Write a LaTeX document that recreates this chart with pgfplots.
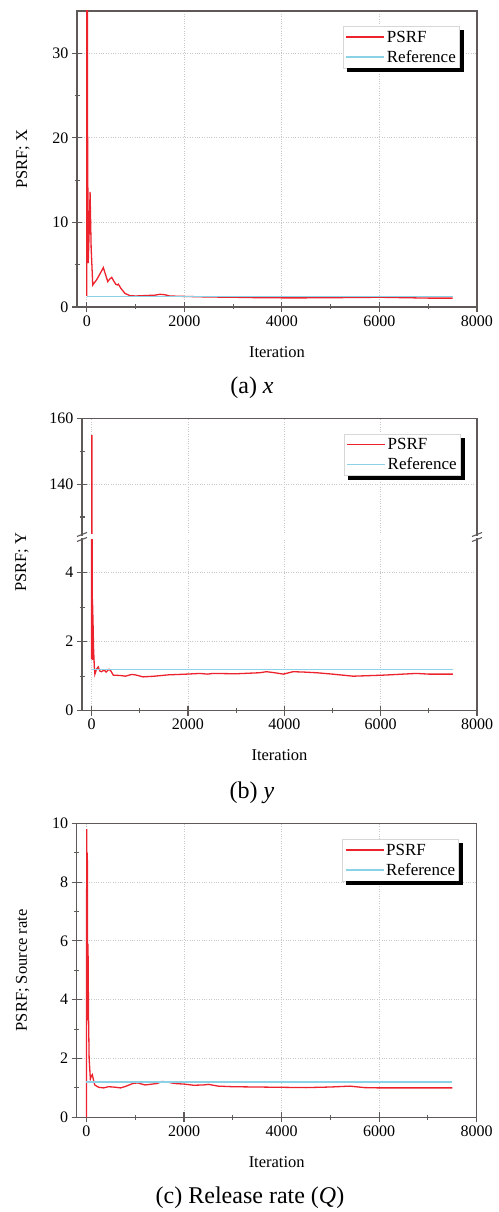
\documentclass[border=0pt]{standalone}
\usepackage{fontspec}
\setmainfont{Liberation Serif}
\usepackage{pgfplots}
\pgfplotsset{compat=1.18}
\usepackage{pgfplotstable}

\definecolor{psrfred}{RGB}{236,35,45}
\definecolor{refcyan}{RGB}{140,210,230}
\definecolor{axcol}{RGB}{95,90,88}
\definecolor{gridcol}{RGB}{200,200,200}
\definecolor{legbord}{RGB}{215,215,215}

\pgfplotstableread{
x y
0 1.3
6 80
14 24
30 5.2
50 9
68 13.6
90 7
123 2.6
200 3.2
270 3.9
340 4.66
430 3.0
470 3.3
512 3.5
560 3.0
594 2.7
630 2.6
648 2.7
700 2.2
785 1.6
887 1.34
1000 1.3
1200 1.35
1400 1.4
1500 1.5
1600 1.45
1700 1.3
2000 1.25
2500 1.18
3000 1.15
3500 1.1
4000 1.08
4500 1.08
5000 1.1
5500 1.12
6000 1.15
6500 1.1
7000 1.05
7500 1.05
}\dataX

\pgfplotstableread{
x y
0 1.5
5 155
10 60
15 1.47
20 3.06
30 2.5
40 1.8
55 1.3
68 1.06
100 1.2
137 1.27
170 1.15
206 1.13
260 1.18
300 1.12
360 1.2
400 1.15
450 1.03
600 1.02
700 1.0
830 1.05
900 1.04
1070 0.98
1300 1.0
1600 1.04
1800 1.05
1970 1.06
2250 1.08
2400 1.06
2520 1.08
3000 1.07
3490 1.1
3630 1.13
3800 1.1
3980 1.06
4180 1.13
4400 1.12
4670 1.1
5000 1.06
5430 1.0
6050 1.03
6740 1.08
7000 1.06
7500 1.06
}\dataY

\pgfplotstableread{
x y
0 0
5 9.8
12 3.3
18 9.0
25 3.3
32 5.9
42 3.5
55 2.0
80 1.3
100 1.4
120 1.45
140 1.3
170 1.1
250 1.02
350 1.0
450 1.04
550 1.03
700 1.0
800 1.05
950 1.15
1050 1.17
1200 1.1
1300 1.12
1450 1.15
1550 1.22
1650 1.2
1800 1.15
2000 1.13
2200 1.09
2400 1.1
2500 1.12
2700 1.06
3000 1.04
3500 1.03
4000 1.02
4500 1.01
5000 1.03
5400 1.06
5700 1.01
6000 1.0
7500 1.0
}\dataQ

\pgfplotsset{
  psrfstyle/.style={
    scale only axis,
    xmin=-200, xmax=8000,
    xtick={0,2000,4000,6000,8000},
    minor x tick num=1,
    minor y tick num=1,
    tick pos=left,
    tick align=center,
    major tick length=10pt,
    minor tick length=5pt,
    axis line style={axcol, line width=1.3pt},
    every tick/.append style={axcol, line width=1.1pt},
    grid=major,
    grid style={gridcol, dotted, line width=0.9pt},
    tick label style={font=\fontsize{16}{16}\selectfont},
    /pgf/number format/assume math mode=true,
    /pgf/number format/1000 sep={},
    label style={font=\fontsize{16.5}{17}\selectfont},
    xlabel style={at={(rel axis cs:0.5,0)}, anchor=center, yshift=-44.7pt},
    legend cell align=left,
    legend style={font=\fontsize{17}{20}\selectfont, draw=legbord, line width=0.8pt, fill=white,
      inner xsep=2pt, inner ysep=2.5pt, nodes={inner sep=1.8pt}, row sep=3pt, anchor=north east},
    legend image code/.code={\draw[#1, line width=1.6pt] (0pt,0pt) -- (38pt,0pt);},
  },
  redline/.style={psrfred, line width=1.3pt},
  cyanline/.style={refcyan, line width=1.2pt},
}
\newcommand{\legshadow}[1]{%
  \fill[black] ([yshift=-4pt]#1.north east) rectangle ([xshift=4pt,yshift=-4pt]#1.south east);
  \fill[black] ([xshift=4pt]#1.south west) rectangle ([xshift=4pt,yshift=-4pt]#1.south east);
}

\begin{document}
\begin{tikzpicture}
\useasboundingbox (0pt,0pt) rectangle (498pt,1212pt);

% ---------------- (a) ----------------
\begin{axis}[psrfstyle,
  at={(77pt,905pt)}, anchor=south west,
  width=400pt, height=296pt,
  ymin=0, ymax=35, ytick={0,10,20,30},
  xlabel={Iteration},
  ylabel={PSRF; X},
  ylabel style={at={([xshift=-54pt]rel axis cs:0,0.5)}, anchor=center, rotate=0},
  legend style={at={(rel axis cs:0.9575,0.949)}, name=legA},
]
\addplot[redline] table[x=x,y=y] {\dataX};
\addlegendentry{PSRF}
\addplot[cyanline] coordinates {(0,1.2) (7500,1.2)};
\addlegendentry{Reference}
\end{axis}
\legshadow{legA}
\node[font=\fontsize{24}{26}\selectfont] at (252pt,824pt) {(a) \textit{x}};

% ---------------- (b) lower ----------------
\begin{axis}[psrfstyle,
  at={(82pt,501.3pt)}, anchor=south west,
  width=395pt, height=172.5pt,
  ymin=0, ymax=5, ytick={0,2,4},
  xlabel={Iteration},
  ylabel={PSRF; Y},
  ylabel style={at={([xshift=-60pt]rel axis cs:0,0.862)}, anchor=center, rotate=0},
]
\addplot[redline] table[x=x,y=y] {\dataY};
\addplot[cyanline] coordinates {(0,1.2) (7500,1.2)};
\end{axis}

% ---------------- (b) upper ----------------
\begin{axis}[psrfstyle,
  at={(82pt,677pt)}, anchor=south west,
  width=395pt, height=116.3pt,
  ymin=124.5, ymax=160, ytick={140,160},
  minor ytick={130,150},
  xticklabels={},
  xtick style={draw=none},
  legend style={at={(rel axis cs:0.959,0.872)}, name=legB},
]
\addplot[redline] table[x=x,y=y] {\dataY};
\addlegendentry{PSRF}
\addplot[cyanline] coordinates {(0,1.2) (7500,1.2)};
\addlegendentry{Reference}
\end{axis}
\legshadow{legB}
\fill[white] (82.8pt,672.9pt) rectangle (476.2pt,677.9pt);
\draw[axcol, line width=1.1pt] (77pt,670.5pt) -- (87pt,674.5pt);
\draw[axcol, line width=1.1pt] (77pt,675.5pt) -- (87pt,679.5pt);
\draw[axcol, line width=1.1pt] (472pt,670.5pt) -- (482pt,674.5pt);
\draw[axcol, line width=1.1pt] (472pt,675.5pt) -- (482pt,679.5pt);
\node[font=\fontsize{24}{26}\selectfont] at (252pt,419pt) {(b) \textit{y}};

% ---------------- (c) ----------------
\begin{axis}[psrfstyle,
  at={(76.7pt,94.7pt)}, anchor=south west,
  width=400pt, height=294pt,
  ymin=0, ymax=10, ytick={0,2,4,6,8,10},
  xlabel={Iteration},
  ylabel={PSRF; Source rate},
  ylabel style={at={([xshift=-54pt]rel axis cs:0,0.5)}, anchor=center, rotate=0},
  legend style={at={(rel axis cs:0.9565,0.946)}, name=legC},
]
\addplot[redline] table[x=x,y=y] {\dataQ};
\addlegendentry{PSRF}
\addplot[cyanline] coordinates {(0,1.2) (7500,1.2)};
\addlegendentry{Reference}
\end{axis}
\legshadow{legC}
\node[font=\fontsize{24}{26}\selectfont] at (250pt,14pt) {(c) Release rate (\textit{Q})};
\end{tikzpicture}
\end{document}
